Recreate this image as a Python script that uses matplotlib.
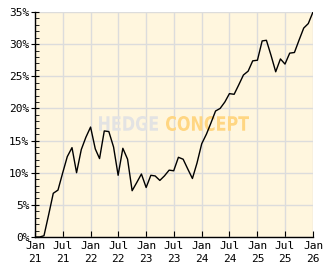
import pandas as pd
import matplotlib
matplotlib.use('Agg')
import matplotlib.pyplot as plt
from matplotlib.ticker import MultipleLocator, FuncFormatter
from matplotlib.textpath import TextPath
from matplotlib.patches import PathPatch
from matplotlib.font_manager import FontProperties
from matplotlib.transforms import Affine2D

###############################################################################
# Monthly performance values (percent), Jan 2021 .. Jan 2026
dates = pd.date_range('2021-01-01', periods=61, freq='MS')
perf = [0.0, 0.0, 0.2, 3.5, 6.8, 7.3, 9.9, 12.5, 13.9, 10.0,
        13.6, 15.5, 17.1, 13.7, 12.2, 16.5, 16.4, 14.0, 9.6, 13.8,
        12.1, 7.2, 8.5, 9.8, 7.7, 9.6, 9.5, 8.8, 9.5, 10.4,
        10.3, 12.4, 12.1, 10.6, 9.1, 11.5, 14.5, 16.0, 17.7, 19.6,
        20.0, 21.0, 22.3, 22.2, 23.7, 25.2, 25.8, 27.4, 27.5, 30.5,
        30.6, 28.2, 25.7, 27.7, 26.9, 28.6, 28.7, 30.6, 32.5, 33.2,
        35.0]
tick_dates = ['2021-01-01', '2021-07-01', '2022-01-01', '2022-07-01',
              '2023-01-01', '2023-07-01', '2024-01-01', '2024-07-01',
              '2025-01-01', '2025-07-01', '2026-01-01']
tick_labels = ['Jan\n21', 'Jul\n21', 'Jan\n22', 'Jul\n22', 'Jan\n23',
               'Jul\n23', 'Jan\n24', 'Jul\n24', 'Jan\n25', 'Jul\n25',
               'Jan\n26']

###############################################################################
# Figure
W, H = 332, 269
fig = plt.figure(figsize=(W / 100, H / 100), dpi=100, facecolor='white')
ax = fig.add_axes([35 / W, 1 - 237 / H, 278 / W, 225 / H])
ax.set_facecolor('#fff6de')

ax.plot(dates, perf, color='black', lw=1.0, zorder=3)

ticks = pd.to_datetime(tick_dates)
ax.set_xlim(ticks[0], ticks[-1])
ax.set_ylim(0, 35)
ax.set_xticks(ticks)
ax.set_xticklabels(tick_labels)
ax.yaxis.set_major_locator(MultipleLocator(5))
ax.yaxis.set_minor_locator(MultipleLocator(1))
ax.yaxis.set_major_formatter(FuncFormatter(lambda v, p: '%d%%' % v))

ax.grid(True, color='#dcdcdc', lw=1.0, zorder=0)
ax.set_axisbelow(True)
for s in ['top', 'right']:
    ax.spines[s].set_visible(False)
for s in ['left', 'bottom']:
    ax.spines[s].set_linewidth(1.0)

ax.tick_params(axis='both', labelsize=8, colors='black')
ax.tick_params(axis='y', which='major', direction='inout', length=6, pad=1)
ax.tick_params(axis='y', which='minor', direction='in', length=3)
ax.tick_params(axis='x', which='major', direction='in', length=4, pad=3)
for lab in ax.get_xticklabels() + ax.get_yticklabels():
    lab.set_family('DejaVu Sans Mono')
    lab.set_linespacing(1.3)


###############################################################################
# Watermark, squeezed into the boxes it fills in the original (pixels)
def watermark(word, x0, x1, y0, y1, color):
    path = TextPath((0, 0), word, size=10,
                    prop=FontProperties(family='DejaVu Sans', weight='bold'))
    ext = path.get_extents()
    sx = (x1 - x0) / ext.width
    sy = (y1 - y0) / ext.height
    tr = Affine2D().translate(-ext.x0, -ext.y0).scale(sx, sy) \
        .translate(x0, H - y1)
    ax.add_patch(PathPatch(path, transform=tr, facecolor=color,
                           edgecolor='none', zorder=1))


watermark('HEDGE', 99, 158, 116, 131, '#e3e3e3')
watermark('CONCEPT', 166, 249, 116, 131, '#ffd682')

fig.savefig('out.png', dpi=100, facecolor='white')
